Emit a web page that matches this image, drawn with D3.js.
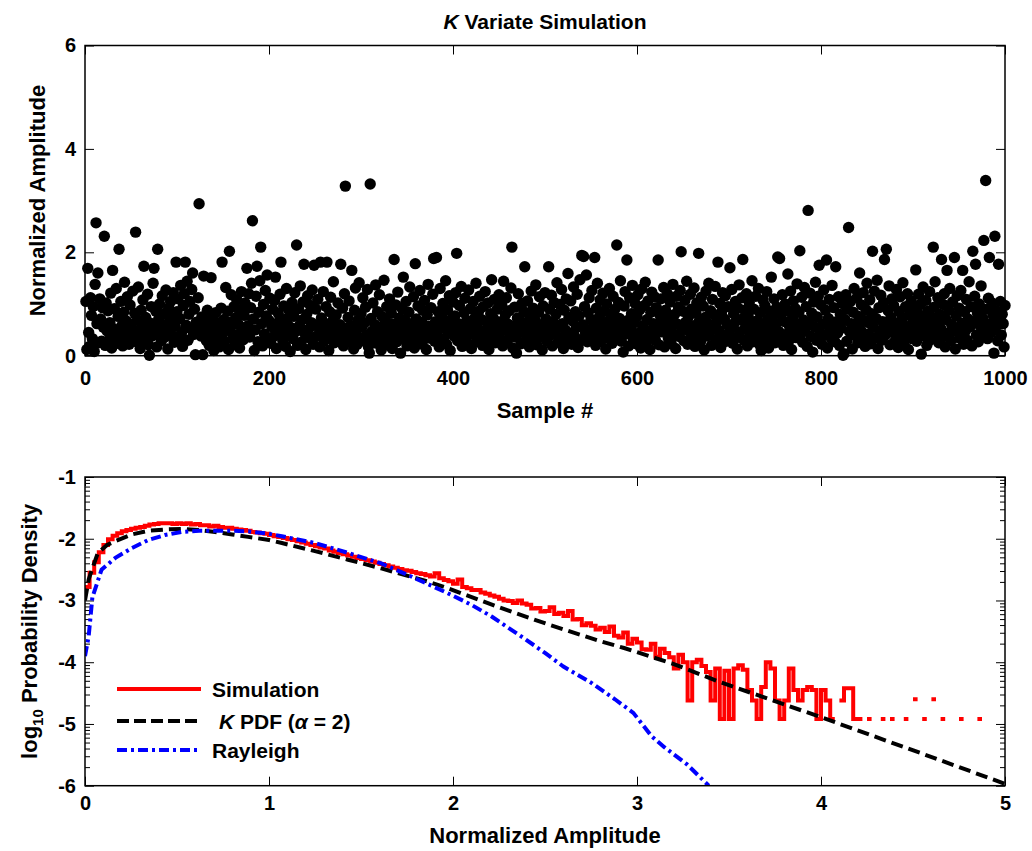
<!DOCTYPE html>
<html>
<head>
<meta charset="utf-8">
<script src="https://cdn.jsdelivr.net/npm/d3@7"></script>
<style>
  body { margin: 0; background: #fff; }
  svg text { font-family: "Liberation Sans", Arial, Helvetica, sans-serif; font-weight: bold; }
</style>
</head>
<body>
<svg id="fig" width="1032" height="851"></svg>
<script>

// ---- top panel: K variate samples (sample # = index + 1)
var sampleValues = [
	1.05,0.12,1.69,0.45,0.18,1.12,0.78,0.33,0.95,0.08,1.38,2.57,0.62,1.60,0.25,1.10,0.71,0.28,0.93,0.55,2.31,0.20,1.02,0.48,0.87,
	0.30,0.64,1.21,0.15,1.65,0.52,0.91,0.37,1.30,0.24,0.76,2.06,0.43,1.05,0.58,0.19,0.84,1.42,0.31,0.67,1.14,0.46,0.22,0.98,0.61,
	0.35,1.25,0.50,0.82,2.39,0.27,0.69,1.33,0.41,0.14,0.88,0.56,1.08,1.73,0.32,0.74,0.47,1.19,0.21,0.01,0.63,0.95,0.38,1.40,1.69,
	0.53,0.86,0.17,2.06,0.70,1.00,0.44,0.29,1.16,0.60,0.81,0.36,1.27,0.49,0.13,0.92,0.66,1.05,0.40,0.77,1.22,0.26,0.57,1.81,0.85,
	1.10,0.34,0.72,1.36,0.45,0.18,0.97,1.20,1.81,0.59,1.44,0.30,0.80,1.05,0.52,1.28,1.60,0.41,0.90,0.02,0.65,0.47,1.12,2.94,0.56,
	0.38,0.75,0.02,1.54,0.61,0.43,0.29,0.88,0.50,0.20,0.69,1.51,0.35,0.57,0.10,0.46,0.83,0.25,0.64,0.39,0.17,0.52,0.92,1.81,0.44,
	0.70,0.28,1.32,0.55,0.86,0.12,2.02,0.48,1.18,0.66,0.33,0.95,0.21,0.74,1.08,0.40,0.60,0.15,0.89,1.24,0.52,0.31,0.78,1.02,0.45,
	1.69,0.58,1.20,0.36,0.93,1.40,2.61,0.71,0.10,0.50,1.15,1.73,0.27,0.84,1.45,2.10,0.62,0.19,0.99,0.42,1.26,0.77,1.56,0.30,0.68,
	1.11,0.24,0.56,0.90,0.37,1.07,1.52,0.14,0.63,0.82,0.45,1.19,1.81,0.53,0.29,0.96,0.70,0.18,1.30,0.61,0.40,0.87,0.08,0.54,1.03,
	0.33,0.76,1.22,0.47,2.14,0.20,0.91,0.58,1.35,0.26,0.69,1.04,1.77,0.43,0.12,0.80,1.16,0.51,0.35,0.97,0.64,1.27,0.22,1.75,0.59,
	0.90,0.38,1.09,0.55,0.17,1.81,0.73,0.44,1.24,0.28,0.62,0.95,1.81,0.48,0.10,0.85,1.13,0.34,0.67,1.43,0.25,0.57,0.79,0.41,1.02,
	0.31,0.60,1.77,0.45,0.92,0.19,1.20,3.28,0.53,0.36,0.74,1.06,0.27,0.58,1.65,0.42,0.13,0.88,1.31,0.50,0.22,0.69,1.41,0.35,0.81,
	0.56,1.12,0.29,0.64,0.94,0.40,1.28,0.18,0.05,3.32,0.72,0.47,1.02,0.33,0.60,1.37,0.24,0.85,0.52,1.18,0.39,0.11,0.76,0.58,1.46,
	0.30,0.67,0.95,0.21,0.49,1.10,0.36,0.82,0.14,0.61,1.86,0.44,0.98,0.27,1.23,0.55,0.73,0.05,0.40,0.90,1.52,0.32,0.68,1.05,0.19,
	0.50,0.84,1.33,0.26,0.62,0.42,1.14,0.15,1.78,0.71,0.37,0.96,0.53,1.26,0.23,0.65,0.88,0.31,1.07,0.46,0.12,0.79,1.38,0.57,0.34,
	0.93,0.48,1.19,1.88,0.28,0.66,1.90,0.40,0.85,0.17,1.30,0.54,0.75,1.01,0.33,0.60,1.45,0.22,0.89,0.45,1.16,0.10,0.70,0.51,1.04,
	0.38,0.77,1.22,1.98,0.29,0.62,0.97,0.45,1.34,0.18,0.56,0.83,1.11,0.35,0.68,0.24,1.27,0.49,0.91,0.14,0.60,1.05,0.41,0.74,1.40,
	0.27,0.53,0.86,1.15,0.36,0.70,0.20,0.95,0.47,1.24,0.31,0.64,1.02,0.12,0.58,0.81,1.47,0.39,0.72,1.09,0.25,0.55,0.90,0.43,1.18,
	0.34,0.66,0.98,0.19,1.44,0.50,0.79,1.12,0.28,0.61,0.87,0.40,1.31,2.10,0.15,0.57,0.94,0.36,0.05,0.73,1.20,0.46,0.68,0.23,1.01,
	0.52,0.85,1.72,0.30,0.63,1.06,0.41,0.17,0.77,1.25,0.55,0.92,0.33,0.69,1.37,0.21,0.48,0.84,1.14,0.37,0.60,0.11,0.96,0.44,1.22,
	0.71,0.28,0.58,1.72,0.90,0.40,1.17,0.19,0.65,1.03,0.47,0.80,1.41,0.26,0.56,0.99,0.35,1.28,0.62,0.14,0.88,0.50,1.10,0.32,1.59,
	0.74,0.43,1.06,0.22,0.67,1.33,0.38,0.85,0.54,1.19,0.16,0.77,1.47,0.31,1.94,0.60,1.92,0.95,0.45,1.56,0.27,0.83,1.12,0.51,0.70,
	1.26,0.36,0.63,1.90,0.20,0.92,1.40,0.48,0.75,1.08,0.29,0.57,1.21,0.40,0.86,0.13,1.00,0.66,0.34,1.30,0.52,0.79,0.24,1.15,0.46,
	0.90,0.61,2.14,0.37,1.03,0.72,1.45,0.28,0.55,0.07,0.96,1.24,0.42,1.85,0.68,0.19,1.12,0.50,0.81,1.36,0.33,0.64,1.01,0.23,0.76,
	1.18,0.44,0.89,0.15,1.29,0.58,0.35,0.97,1.42,0.26,0.70,1.06,0.48,0.12,0.84,1.23,0.39,0.62,1.14,0.30,0.93,0.55,1.85,0.21,0.78,
	1.10,0.46,0.67,1.32,0.17,0.88,0.53,1.20,0.34,0.72,1.04,0.25,0.59,1.38,0.42,0.80,0.14,1.15,0.61,0.94,0.37,1.26,2.01,0.50,0.86,
	0.29,1.07,0.65,1.44,0.22,0.76,0.47,1.19,0.90,0.33,0.58,1.31,0.18,0.83,1.02,0.41,1.98,0.69,0.27,1.13,0.54,0.96,0.11,0.74,1.25,
	0.38,0.62,1.40,0.45,0.87,0.20,1.09,0.57,0.79,1.34,0.31,0.66,1.81,0.49,1.01,0.16,0.85,1.22,0.40,0.71,1.16,0.28,0.60,0.95,0.43,
	1.70,0.52,1.28,0.24,0.81,0.63,1.05,0.35,0.13,0.92,1.37,0.46,0.70,1.12,1.86,0.30,0.88,0.56,1.20,0.19,0.75,1.03,0.42,0.64,1.45,
	0.27,0.90,0.51,1.15,0.36,0.68,1.30,0.22,0.83,0.10,0.59,1.08,0.44,0.97,0.31,1.24,0.70,0.15,0.86,0.53,1.52,0.38,0.77,1.10,0.25,
	0.62,0.94,1.91,0.47,1.88,0.33,0.80,1.18,0.20,0.66,1.00,0.41,0.87,1.58,0.29,0.55,1.25,0.12,0.73,1.06,0.48,0.91,0.35,1.39,0.60,
	0.84,2.03,0.43,1.13,0.26,0.69,1.32,0.52,0.95,0.18,2.81,0.64,1.21,0.37,0.82,0.07,1.04,0.56,1.42,0.30,0.75,1.15,1.75,0.45,0.98,
	0.22,0.61,1.27,0.40,0.88,1.85,0.15,0.72,1.09,0.49,0.34,1.36,0.58,0.93,0.27,1.72,0.66,0.44,1.14,0.20,0.80,0.53,1.01,0.01,0.04,
	0.70,1.18,0.28,0.90,2.48,0.47,1.05,0.62,0.13,0.84,1.30,0.39,0.57,1.12,0.25,0.76,1.60,0.50,0.98,0.31,1.22,0.68,0.18,0.89,1.40,
	0.42,0.64,1.08,0.23,0.81,2.02,0.55,1.25,0.35,0.72,1.46,0.14,0.93,0.48,1.17,0.30,0.66,1.03,1.86,0.40,2.06,0.59,0.87,1.35,0.21,
	0.74,1.10,0.45,0.97,0.27,0.63,1.28,0.52,0.16,0.85,1.14,0.37,0.70,1.41,0.24,0.58,0.95,0.43,1.20,0.12,0.79,0.50,1.06,0.33,0.67,
	0.90,0.46,1.66,0.28,0.82,1.19,0.55,0.99,0.03,0.71,1.33,0.38,0.61,1.07,0.20,0.86,0.49,1.24,0.31,0.75,0.57,2.10,0.94,1.43,0.42,
	0.65,1.12,0.25,0.80,0.53,1.86,0.36,0.99,1.20,0.17,0.70,1.65,0.44,0.88,1.30,0.29,0.60,1.04,0.47,1.90,0.13,0.77,1.16,0.52,0.92,
	0.34,1.26,0.63,1.65,0.22,0.85,0.48,1.09,0.30,0.71,1.43,0.56,0.95,0.19,2.02,0.66,1.15,1.77,0.40,0.83,0.27,1.00,0.58,1.35,0.44,
	0.72,2.23,0.50,3.39,0.90,0.33,1.11,1.90,0.61,0.45,1.02,0.78,0.05,2.31,0.55,0.86,0.29,1.77,0.68,1.05,0.40,0.80,0.62,0.17,0.97
];
var sampleTicks = [0, 200, 400, 600, 800, 1000];
var ampTicks = [0, 2, 4, 6];

// ---- bottom panel: log10 pdf
// simulated histogram, bins of 0.025 starting at 0 (null = empty bin)
var simBinWidth = 0.025;
var simLogPdf = [
	-2.78,-2.55,-2.38,-2.22,-2.10,-2.01,-1.95,-1.91,-1.88,-1.86,
	-1.84,-1.82,-1.81,-1.79,-1.77,-1.76,-1.75,-1.75,-1.75,-1.76,
	-1.75,-1.76,-1.75,-1.77,-1.76,-1.78,-1.78,-1.80,-1.79,-1.81,
	-1.82,-1.82,-1.84,-1.85,-1.86,-1.87,-1.89,-1.90,-1.91,-1.92,
	-1.94,-1.96,-1.97,-1.99,-2.01,-2.02,-2.04,-2.06,-2.08,-2.10,
	-2.12,-2.14,-2.16,-2.19,-2.21,-2.23,-2.25,-2.27,-2.29,-2.31,
	-2.33,-2.35,-2.37,-2.39,-2.41,-2.43,-2.45,-2.47,-2.49,-2.51,
	-2.52,-2.54,-2.56,-2.57,-2.59,-2.61,-2.56,-2.64,-2.67,-2.69,
	-2.73,-2.66,-2.78,-2.80,-2.83,-2.83,-2.87,-2.89,-2.92,-2.94,
	-2.97,-3.00,-3.01,-3.04,-3.00,-3.05,-3.07,-3.13,-3.12,-3.18,
	-3.17,-3.11,-3.22,-3.20,-3.25,-3.17,-3.31,-3.30,-3.40,-3.37,
	-3.41,-3.47,-3.44,-3.51,-3.42,-3.57,-3.60,-3.52,-3.70,-3.62,
	-3.68,-3.79,-3.80,-3.70,-3.91,-3.78,-3.85,-3.92,-4.10,-3.88,
	-4.00,-4.62,-4.00,-3.96,-4.06,-4.16,-4.62,-4.10,-4.92,-4.14,
	-4.92,-4.10,-4.05,-4.12,-4.45,-4.62,-4.92,-4.40,-4.00,-4.10,
	-4.62,-4.92,-4.62,-4.10,-4.45,-4.62,-4.45,-4.40,-4.45,-4.92,
	-4.45,-4.62,-4.92,null,-4.62,-4.42,-4.42,-4.92,-4.92,null,
	-4.92,null,null,-4.92,null,-4.92,null,null,-4.92,null,
	-4.60,null,-4.92,null,-4.60,null,-4.92,null,null,null,
	-4.92,null,null,null,-4.92,null
];
// K pdf (alpha = 2)
var kPdfX = [0, 0.02, 0.04, 0.07, 0.12, 0.165, 0.255, 0.345, 0.44, 0.526, 0.62, 0.707, 0.8, 0.887, 1.0, 1.07, 1.25, 1.43, 1.61, 1.86, 1.97, 2.24, 2.51, 2.79, 2.93, 3.2, 3.45, 4.0, 4.54, 5.0];
var kPdfY = [-3.0, -2.66, -2.48, -2.23, -2.1, -2.04, -1.93, -1.87, -1.85, -1.84, -1.86, -1.89, -1.93, -1.97, -2.02, -2.07, -2.2, -2.34, -2.48, -2.69, -2.8, -3.1, -3.38, -3.65, -3.77, -4.03, -4.32, -4.89, -5.47, -5.97];
// Rayleigh
var rayX = [0, 0.02, 0.04, 0.09, 0.165, 0.255, 0.345, 0.435, 0.526, 0.62, 0.707, 0.8, 0.887, 1.0, 1.07, 1.25, 1.43, 1.61, 1.75, 1.86, 1.97, 2.1, 2.21, 2.39, 2.5, 2.6, 2.75, 2.88, 2.98, 3.08, 3.15, 3.27, 3.39];
var rayY = [-3.9, -3.58, -2.95, -2.5, -2.31, -2.15, -2.02, -1.94, -1.89, -1.87, -1.87, -1.87, -1.88, -1.92, -1.96, -2.07, -2.23, -2.4, -2.58, -2.73, -2.88, -3.07, -3.26, -3.62, -3.85, -4.07, -4.33, -4.6, -4.82, -5.2, -5.38, -5.65, -6.0];
var ampTicksBottom = [0, 1, 2, 3, 4, 5];
var logTicks = [-1, -2, -3, -4, -5, -6];

var legendNames = ["Simulation", "K PDF", "Rayleigh"];


var svg = d3.select("#fig");
var LEFT = 85, RIGHT = 1005;
var TICK_FONT = 20, LABEL_FONT = 22;

// plain hyphen for negatives, like the original
function plainFormat(d) { return String(d); }

// ================= top panel =================
var top1 = 45.5, bot1 = 355.7;
var xS = d3.scaleLinear().domain([0, 1000]).range([LEFT, RIGHT]);
var yS = d3.scaleLinear().domain([0, 6]).range([bot1, top1]);

var g1 = svg.append("g");

g1.selectAll("circle")
	.data(sampleValues)
	.enter().append("circle")
	.attr("cx", function(d, i) { return xS(i + 1); })
	.attr("cy", function(d) { return yS(d); })
	.attr("r", 5.7)
	.style("fill", "#000");

function styleAxis(sel) {
	sel.select(".domain").remove();
	sel.selectAll(".tick line").attr("stroke", "#000").attr("stroke-width", 1);
	sel.selectAll("text").attr("font-size", TICK_FONT).attr("fill", "#000")
		.attr("font-family", "'Liberation Sans', Arial, sans-serif").attr("font-weight", "bold");
}

g1.append("g").attr("transform", "translate(0," + bot1 + ")")
	.call(d3.axisBottom(xS).tickValues(sampleTicks).tickSize(-9).tickPadding(15).tickFormat(plainFormat))
	.call(styleAxis);
g1.append("g").attr("transform", "translate(0," + top1 + ")")
	.call(d3.axisTop(xS).tickValues(sampleTicks).tickSize(-9).tickFormat(""))
	.call(styleAxis);
g1.append("g").attr("transform", "translate(" + LEFT + ",0)")
	.call(d3.axisLeft(yS).tickValues(ampTicks).tickSize(-9).tickPadding(9).tickFormat(plainFormat))
	.call(styleAxis);
g1.append("g").attr("transform", "translate(" + RIGHT + ",0)")
	.call(d3.axisRight(yS).tickValues(ampTicks).tickSize(-9).tickFormat(""))
	.call(styleAxis);

g1.append("rect")
	.attr("x", LEFT).attr("y", top1)
	.attr("width", RIGHT - LEFT).attr("height", bot1 - top1)
	.attr("fill", "none").attr("stroke", "#000").attr("stroke-width", 1.5);

var title = g1.append("text")
	.attr("x", (LEFT + RIGHT) / 2).attr("y", 29)
	.attr("text-anchor", "middle").attr("font-size", 21);
title.append("tspan").attr("font-style", "italic").text("K");
title.append("tspan").text(" Variate Simulation");

g1.append("text")
	.attr("x", (LEFT + RIGHT) / 2).attr("y", 418)
	.attr("text-anchor", "middle").attr("font-size", LABEL_FONT)
	.text("Sample #");

g1.append("text")
	.attr("transform", "translate(45," + ((top1 + bot1) / 2) + ") rotate(-90)")
	.attr("text-anchor", "middle").attr("font-size", LABEL_FONT)
	.text("Normalized Amplitude");

// ================= bottom panel =================
var top2 = 477, bot2 = 785.7;
var xB = d3.scaleLinear().domain([0, 5]).range([LEFT, RIGHT]);
var yB = d3.scaleLinear().domain([-6, -1]).range([bot2, top2]);

var g2 = svg.append("g");

// minor ticks, log style inside each unit interval
var minorTicks = [];
logTicks.slice(1).forEach(function(base) {
	for (var m = 2; m <= 9; m++) minorTicks.push(base + Math.log10(m));
});

g2.append("g").attr("transform", "translate(" + LEFT + ",0)")
	.call(d3.axisLeft(yB).tickValues(minorTicks).tickSize(-5).tickFormat(""))
	.call(styleAxis);
g2.append("g").attr("transform", "translate(" + RIGHT + ",0)")
	.call(d3.axisRight(yB).tickValues(minorTicks).tickSize(-5).tickFormat(""))
	.call(styleAxis);
g2.append("g").attr("transform", "translate(" + LEFT + ",0)")
	.call(d3.axisLeft(yB).tickValues(logTicks).tickSize(-9).tickPadding(9).tickFormat(plainFormat))
	.call(styleAxis);
g2.append("g").attr("transform", "translate(" + RIGHT + ",0)")
	.call(d3.axisRight(yB).tickValues(logTicks).tickSize(-9).tickFormat(""))
	.call(styleAxis);
g2.append("g").attr("transform", "translate(0," + bot2 + ")")
	.call(d3.axisBottom(xB).tickValues(ampTicksBottom).tickSize(-9).tickPadding(10).tickFormat(plainFormat))
	.call(styleAxis);
g2.append("g").attr("transform", "translate(0," + top2 + ")")
	.call(d3.axisTop(xB).tickValues(ampTicksBottom).tickSize(-9).tickFormat(""))
	.call(styleAxis);

svg.append("clipPath").attr("id", "clip2")
	.append("rect").attr("x", LEFT).attr("y", top2)
	.attr("width", RIGHT - LEFT).attr("height", bot2 - top2);

var plot2 = g2.append("g").attr("clip-path", "url(#clip2)");

// histogram as stairs, empty bins break the line
var simPts = [];
simLogPdf.forEach(function(v, i) {
	simPts.push({ x: i * simBinWidth, y: v });
	simPts.push({ x: (i + 1) * simBinWidth, y: v });
});

var lineB = d3.line()
	.defined(function(d) { return d.y !== null; })
	.x(function(d) { return xB(d.x); })
	.y(function(d) { return yB(d.y); });

plot2.append("path")
	.datum(simPts)
	.attr("d", lineB)
	.attr("fill", "none").attr("stroke", "#ff0000").attr("stroke-width", 4)
	.attr("stroke-linejoin", "miter");

plot2.append("path")
	.datum(kPdfX.map(function(x, i) { return { x: x, y: kPdfY[i] }; }))
	.attr("d", lineB)
	.attr("fill", "none").attr("stroke", "#000").attr("stroke-width", 4)
	.attr("stroke-dasharray", "12,6");

plot2.append("path")
	.datum(rayX.map(function(x, i) { return { x: x, y: rayY[i] }; }))
	.attr("d", lineB)
	.attr("fill", "none").attr("stroke", "#0000ff").attr("stroke-width", 4)
	.attr("stroke-dasharray", "10,4,3,4");

g2.append("rect")
	.attr("x", LEFT).attr("y", top2)
	.attr("width", RIGHT - LEFT).attr("height", bot2 - top2)
	.attr("fill", "none").attr("stroke", "#000").attr("stroke-width", 1.5);

// legend
var legY = [689, 721, 750];
var legStyle = [
	{ stroke: "#ff0000", dash: null },
	{ stroke: "#000", dash: "12,5" },
	{ stroke: "#0000ff", dash: "10,4,3,4" }
];
legY.forEach(function(y, i) {
	g2.append("line")
		.attr("x1", 117).attr("x2", 201).attr("y1", y).attr("y2", y)
		.attr("stroke", legStyle[i].stroke).attr("stroke-width", 4)
		.attr("stroke-dasharray", legStyle[i].dash);
});
g2.append("text").attr("x", 212).attr("y", legY[0] + 8).attr("font-size", 21).text(legendNames[0]);
var kt = g2.append("text").attr("x", 219).attr("y", legY[1] + 8).attr("font-size", 21);
kt.append("tspan").attr("font-style", "italic").text("K");
kt.append("tspan").text(" PDF (");
kt.append("tspan").attr("font-style", "italic").text("α");
kt.append("tspan").text(" = 2)");
g2.append("text").attr("x", 212).attr("y", legY[2] + 8).attr("font-size", 21).text(legendNames[2]);

g2.append("text")
	.attr("x", (LEFT + RIGHT) / 2).attr("y", 843)
	.attr("text-anchor", "middle").attr("font-size", LABEL_FONT)
	.text("Normalized Amplitude");

var yl = g2.append("text")
	.attr("transform", "translate(37," + ((top2 + bot2) / 2) + ") rotate(-90)")
	.attr("text-anchor", "middle").attr("font-size", LABEL_FONT);
yl.append("tspan").text("log");
yl.append("tspan").attr("font-size", 15).attr("dy", 6).text("10");
yl.append("tspan").attr("dy", -6).text(" Probability Density");

</script>
</body>
</html>
